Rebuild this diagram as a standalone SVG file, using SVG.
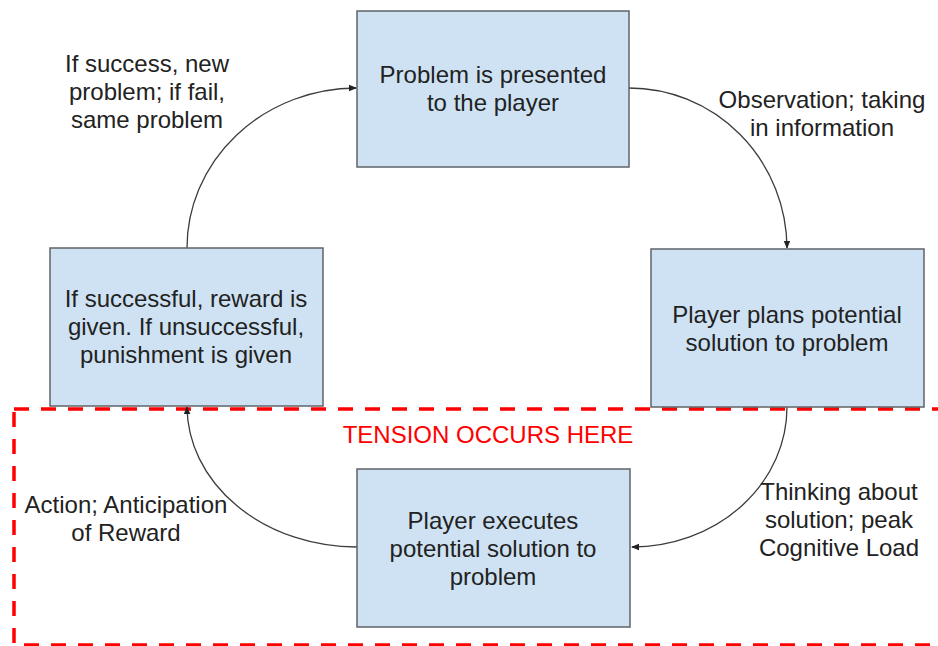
<svg xmlns="http://www.w3.org/2000/svg" width="938" height="646" viewBox="0 0 938 646">
<defs>
<style>
.box{fill:#cfe2f3;stroke:#5f6368;stroke-width:1.5}
text{font-family:"Liberation Sans",Arial,sans-serif;font-size:24px;fill:#222;text-anchor:middle}
.conn{fill:none;stroke:#3c3c3c;stroke-width:1.3}
.red{fill:#ff0000}
</style>
<marker id="ah" viewBox="0 0 8 8" refX="7" refY="4" markerWidth="8" markerHeight="8" markerUnits="userSpaceOnUse" orient="auto">
<path d="M0,0.8 L8,4 L0,7.2 Z" fill="#222"/>
</marker>
</defs>
<rect width="938" height="646" fill="#fff"/>
<g id="tension-zone">
<rect x="14" y="409" width="934" height="236" fill="none" stroke="#ff0000" stroke-width="3.5" stroke-dasharray="15 12"/>
<text class="red" x="488" y="443">TENSION OCCURS HERE</text>
</g>
<g id="connectors">
<path class="conn" d="M629,88 A158 161 0 0 1 787,248" marker-end="url(#ah)"/>
<path class="conn" d="M787,407 A155 140 0 0 1 632,547" marker-end="url(#ah)"/>
<path class="conn" d="M357,547 A170 141 0 0 1 187,407" marker-end="url(#ah)"/>
<path class="conn" d="M187,248 A170 160 0 0 1 356,88" marker-end="url(#ah)"/>
<text x="147" y="72">If success, new</text>
<text x="147" y="100">problem; if fail,</text>
<text x="147" y="128">same problem</text>
<text x="822" y="108">Observation; taking</text>
<text x="822" y="136">in information</text>
<text x="839" y="500">Thinking about</text>
<text x="839" y="528">solution; peak</text>
<text x="839" y="556">Cognitive Load</text>
<text x="126" y="513">Action; Anticipation</text>
<text x="126" y="541">of Reward</text>
</g>
<g id="node-problem">
<rect class="box" x="357" y="11" width="272" height="156"/>
<text x="493" y="83">Problem is presented</text>
<text x="493" y="111">to the player</text>
</g>
<g id="node-plan">
<rect class="box" x="651" y="249" width="273" height="158"/>
<text x="787" y="323">Player plans potential</text>
<text x="787" y="351">solution to problem</text>
</g>
<g id="node-execute">
<rect class="box" x="357" y="469" width="273" height="158"/>
<text x="493" y="529">Player executes</text>
<text x="493" y="557">potential solution to</text>
<text x="493" y="585">problem</text>
</g>
<g id="node-reward">
<rect class="box" x="50" y="248" width="273" height="158"/>
<text x="186" y="307">If successful, reward is</text>
<text x="186" y="335">given. If unsuccessful,</text>
<text x="186" y="363">punishment is given</text>
</g>
</svg>
